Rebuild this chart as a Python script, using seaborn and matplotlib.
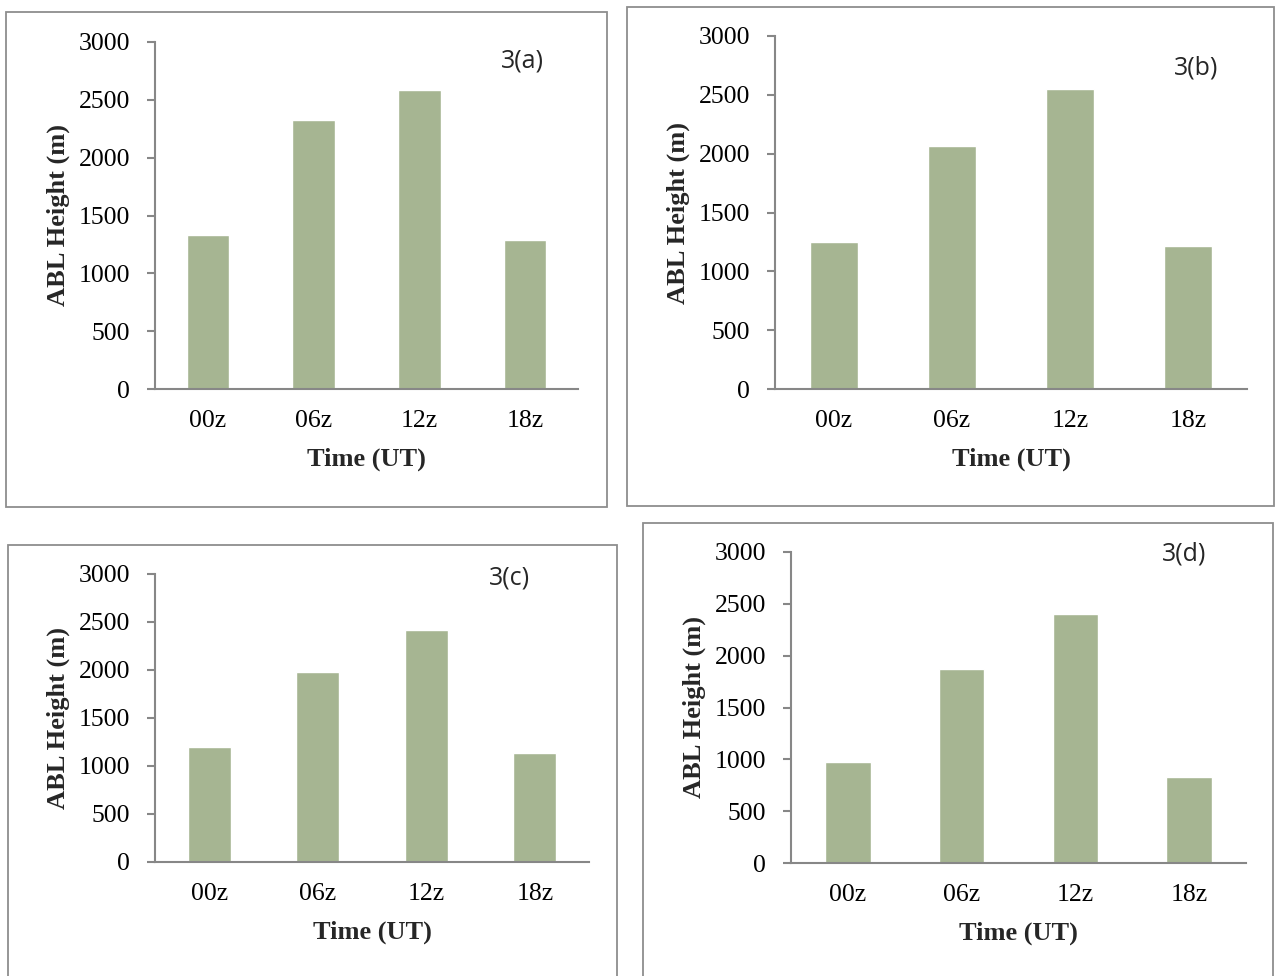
"""
ABL height by synoptic hour, four panels 3(a)-3(d)
"""

import matplotlib
matplotlib.use('Agg')
import matplotlib.pyplot as plt
import seaborn as sns
from matplotlib.patches import Rectangle

# Data
times = ['00z', '06z', '12z', '18z']
abl_a = [1330, 2325, 2585, 1290]
abl_b = [1248, 2066, 2548, 1213]
abl_c = [1195, 1984, 2414, 1133]
abl_d = [975, 1872, 2403, 830]
panel_tags = ['3(a)', '3(b)', '3(c)', '3(d)']
y_ticks = [0, 500, 1000, 1500, 2000, 2500, 3000]

sns.set_style('ticks')
plt.rcParams['font.family'] = ['Liberation Serif', 'DejaVu Serif']

W, H = 1275, 976
fig = plt.figure(figsize=(W / 100, H / 100), dpi=100)
fig.patch.set_facecolor('white')

# layout in pixels: axes (left, top, right, bottom), panel frame, tag centre
axes_px = [(155, 42, 578, 389), (775, 36, 1247, 389),
           (155, 574, 589, 862), (791, 552, 1246, 863)]
frames_px = [(6, 12, 607, 507), (627, 7, 1274, 506),
             (8, 545, 617, 995), (643, 523, 1273, 995)]
tags_px = [(522, 61), (1196, 68), (509, 578), (1184, 554)]

bar_color = '#A6B592'
axis_color = '#878787'

for vals, tag, (x0, y0, x1, y1), fr, (tx, ty) in zip(
        [abl_a, abl_b, abl_c, abl_d], panel_tags, axes_px, frames_px, tags_px):
    # panel border
    fig.add_artist(Rectangle((fr[0] / W, 1 - fr[3] / H), (fr[2] - fr[0]) / W,
                             (fr[3] - fr[1]) / H, transform=fig.transFigure,
                             fill=False, edgecolor='#8e8e8e', linewidth=1.3))

    ax = fig.add_axes([x0 / W, 1 - y1 / H, (x1 - x0) / W, (y1 - y0) / H])
    sns.barplot(x=times, y=vals, color=bar_color, saturation=1, width=0.4, ax=ax)

    ax.set_ylim(0, 3000)
    ax.set_yticks(y_ticks)
    ax.set_xlim(-0.5, 3.5)
    sns.despine(ax=ax)
    for side in ['left', 'bottom']:
        ax.spines[side].set_color(axis_color)
        ax.spines[side].set_linewidth(1.5)
    ax.tick_params(axis='y', length=6, width=1.5, color=axis_color, pad=12,
                   labelsize=18.5, labelcolor='black')
    ax.tick_params(axis='x', length=0, pad=15, labelsize=18.5, labelcolor='black')

    ax.set_xlabel('Time (UT)', fontsize=19, fontweight='bold')
    ax.set_ylabel('ABL Height (m)', fontsize=19, fontweight='bold')
    axw, axh = x1 - x0, y1 - y0
    ax.xaxis.label.set_va('center')
    ax.yaxis.label.set_va('center')
    ax.xaxis.set_label_coords(0.5, -70 / axh)
    ax.yaxis.set_label_coords(-97 / axw, 0.5)

    fig.text(tx / W, 1 - ty / H, tag, fontsize=18, family='Open Sans',
             ha='center', va='center')

plt.savefig('out.png', dpi=100)
print('[OK] out.png')
